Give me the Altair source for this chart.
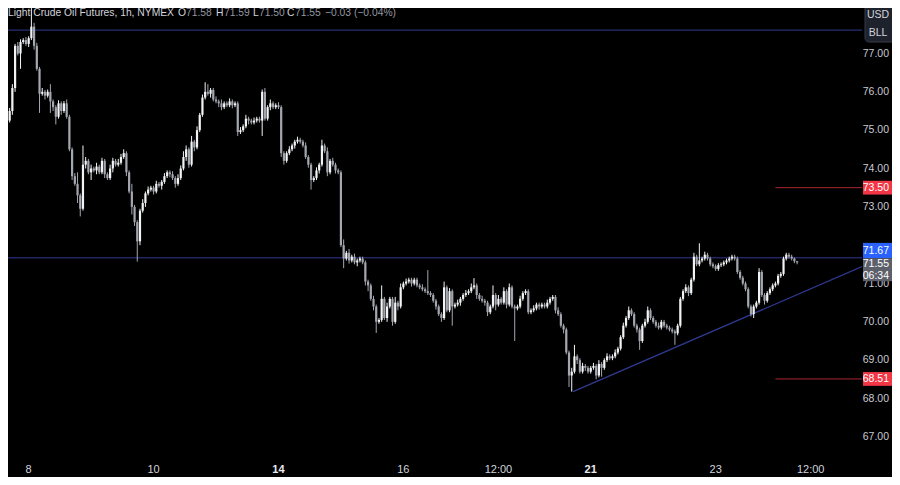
import altair as alt
import pandas as pd

# ---------------- data ----------------
FIRST_OPEN = 76.45

SEG1 = [76.10, 75.95, 75.25, 75.50, 76.10, 77.20, 77.00, 77.30, 77.35, 77.25,
        77.40, 77.70, 77.20, 76.60, 75.95, 76.00, 75.90, 76.00, 75.75, 75.60,
        75.35, 75.70, 75.50, 75.70, 75.35, 74.50, 73.80, 73.60, 73.30, 72.95,
        74.10, 74.20, 73.90, 74.00, 73.95, 74.05, 73.90, 74.20, 73.85, 73.75,
        74.00, 74.20, 74.10, 74.15, 74.30, 74.40, 73.90, 73.40, 73.00, 72.60,
        72.10, 72.90, 73.10, 73.35, 73.45]
SEG2 = [73.50, 73.40, 73.60, 73.55, 73.65, 73.80, 73.90, 73.85, 73.75, 73.60,
        73.75, 74.00, 74.30, 74.50, 74.10, 74.70, 74.55, 75.00, 75.40, 75.85,
        76.00, 75.95, 76.05, 75.80, 75.75, 75.70, 75.60, 75.70, 75.65, 75.75,
        75.65, 75.70, 74.95, 75.00, 75.10, 75.30, 75.25, 75.20, 75.25, 75.30,
        75.25, 76.00, 75.30, 75.60, 75.70, 75.60, 75.65, 75.60, 74.40, 74.20,
        74.40, 74.50, 74.60, 74.70, 74.75, 74.70]
SEG3 = [74.60, 74.30, 74.10, 73.70, 73.75, 73.95, 74.10, 74.60, 74.45, 73.90,
        74.20, 74.10, 73.95, 73.90, 72.00, 71.65, 71.80, 71.60, 71.70, 71.55,
        71.60, 71.65, 71.55, 71.05, 70.95, 70.60, 70.40, 70.00, 70.05, 70.60,
        70.10, 70.40, 70.60, 70.00, 70.50, 70.40, 70.90, 71.00, 71.05, 71.10,
        71.00, 71.10, 70.95, 70.90, 70.85, 70.80, 70.75, 70.70, 70.55, 70.40,
        70.20, 70.10, 70.90, 70.30, 70.80]
SEG4 = [70.40, 70.45, 70.50, 70.60, 70.70, 70.75, 70.80, 70.90, 70.95, 70.70,
        70.60, 70.55, 70.50, 70.25, 70.40, 70.70, 70.45, 70.60, 70.50, 70.80,
        70.45, 70.90, 70.40, 70.35, 70.40, 70.60, 70.75, 70.80, 70.25, 70.30,
        70.35, 70.45, 70.40, 70.45, 70.40, 70.50, 70.60]
SEG5 = [70.65, 70.30, 70.20, 69.90, 69.80, 69.20, 68.60, 68.70, 69.10, 69.00,
        68.70, 68.85, 68.80, 68.70, 68.80, 68.85, 68.60, 68.90]
SEG6 = [68.80, 69.00, 69.10, 69.05, 69.10, 69.20, 69.30, 69.60, 69.90, 70.10,
        70.30, 70.20, 69.90, 69.80, 69.50, 69.90, 70.00, 70.30, 70.10, 70.00,
        69.90, 69.85, 70.00, 69.90, 69.85, 69.80, 69.75, 69.70, 69.90, 70.60,
        70.80, 70.90, 70.75, 71.10, 71.70, 71.50, 71.60, 71.65, 71.75, 71.65,
        71.50, 71.45, 71.38, 71.48, 71.50, 71.55, 71.60, 71.65, 71.70, 71.65,
        71.30, 71.15, 71.00, 70.85, 70.40, 70.20]
SEG7 = [70.40, 70.50, 71.30, 70.70, 70.55, 70.75, 70.85, 70.95, 71.00, 71.20,
        71.25, 71.65, 71.75, 71.70, 71.65, 71.58, 71.55]

UP1 = [0.05, 0.08, 0.05, 0.08, 0.10, 0.05, 0.10, 0.07, 0.05, 0.08,
       0.05, 0.70, 0.10, 0.08, 0.05, 0.10, 0.05, 0.06, 0.20, 0.05,
       0.05, 0.08, 0.05, 0.06, 0.10, 0.05, 0.05, 0.08, 0.30, 0.05,
       0.50, 0.10, 0.05, 0.10, 0.05, 0.10, 0.05, 0.08, 0.05, 0.05,
       0.10, 0.08, 0.05, 0.10, 0.08, 0.10, 0.05, 0.05, 0.20, 0.05,
       0.05, 0.05, 0.10, 0.05, 0.08]
DN1 = [0.10, 0.05, 0.20, 0.05, 0.10, 0.10, 0.05, 0.40, 0.05, 0.05,
       0.08, 0.05, 0.10, 0.05, 0.50, 0.05, 0.10, 0.05, 0.30, 0.10,
       0.20, 0.05, 0.10, 0.05, 0.05, 0.05, 0.10, 0.05, 0.20, 0.20,
       0.05, 0.10, 0.05, 0.20, 0.05, 0.10, 0.05, 0.05, 0.10, 0.05,
       0.05, 0.10, 0.05, 0.05, 0.05, 0.05, 0.10, 0.05, 0.20, 0.10,
       0.53, 0.10, 0.05, 0.10, 0.05]
UP2 = [0.05, 0.05, 0.08, 0.05, 0.05, 0.08, 0.05, 0.05, 0.08, 0.05,
       0.10, 0.08, 0.15, 0.10, 0.05, 0.15, 0.05, 0.10, 0.05, 0.08,
       0.25, 0.20, 0.05, 0.05, 0.08, 0.05, 0.10, 0.05, 0.05, 0.08,
       0.05, 0.05, 0.05, 0.08, 0.05, 0.10, 0.05, 0.05, 0.08, 0.05,
       0.05, 0.06, 0.10, 0.05, 0.10, 0.05, 0.05, 0.08, 0.05, 0.05,
       0.05, 0.08, 0.05, 0.05, 0.08, 0.05]
DN2 = [0.05, 0.08, 0.05, 0.05, 0.10, 0.05, 0.05, 0.08, 0.05, 0.10,
       0.05, 0.05, 0.05, 0.10, 0.08, 0.05, 0.10, 0.05, 0.05, 0.05,
       0.05, 0.05, 0.10, 0.05, 0.05, 0.10, 0.08, 0.05, 0.05, 0.05,
       0.08, 0.05, 0.10, 0.05, 0.05, 0.05, 0.10, 0.05, 0.05, 0.05,
       0.05, 0.40, 0.05, 0.05, 0.08, 0.05, 0.05, 0.05, 0.10, 0.10,
       0.05, 0.05, 0.05, 0.08, 0.05, 0.05]
UP3 = [0.05, 0.08, 0.05, 0.05, 0.05, 0.08, 0.05, 0.15, 0.05, 0.10,
       0.05, 0.08, 0.05, 0.05, 0.05, 0.15, 0.05, 0.10, 0.05, 0.08,
       0.05, 0.05, 0.05, 0.05, 0.05, 0.05, 0.08, 0.05, 0.05, 0.35,
       0.05, 0.10, 0.05, 0.05, 0.15, 0.05, 0.10, 0.05, 0.08, 0.05,
       0.05, 0.05, 0.05, 0.05, 0.08, 0.05, 0.55, 0.05, 0.05, 0.05,
       0.05, 0.05, 0.15, 0.05, 0.08]
DN3 = [0.05, 0.05, 0.08, 0.25, 0.05, 0.05, 0.08, 0.05, 0.05, 0.10,
       0.05, 0.05, 0.08, 0.05, 0.05, 0.25, 0.05, 0.08, 0.05, 0.05,
       0.10, 0.05, 0.05, 0.10, 0.15, 0.05, 0.10, 0.29, 0.05, 0.05,
       0.05, 0.10, 0.05, 0.10, 0.05, 0.10, 0.05, 0.05, 0.05, 0.05,
       0.08, 0.05, 0.05, 0.05, 0.05, 0.05, 0.05, 0.05, 0.05, 0.08,
       0.05, 0.10, 0.05, 0.05, 0.05]
UP4 = [0.05, 0.05, 0.08, 0.05, 0.05, 0.08, 0.05, 0.10, 0.19, 0.05,
       0.05, 0.08, 0.05, 0.05, 0.05, 0.25, 0.05, 0.10, 0.05, 0.10,
       0.05, 0.10, 0.05, 0.05, 0.05, 0.08, 0.05, 0.05, 0.05, 0.05,
       0.08, 0.05, 0.05, 0.05, 0.05, 0.08, 0.05]
DN4 = [0.50, 0.05, 0.05, 0.08, 0.05, 0.05, 0.05, 0.05, 0.05, 0.10,
       0.05, 0.05, 0.08, 0.10, 0.05, 0.05, 0.15, 0.05, 0.05, 0.05,
       0.10, 0.05, 0.05, 0.85, 0.05, 0.05, 0.05, 0.05, 0.05, 0.05,
       0.05, 0.05, 0.08, 0.05, 0.05, 0.05, 0.05]
UP5 = [0.05, 0.05, 0.08, 0.05, 0.05, 0.05, 0.05, 0.10, 0.30, 0.05,
       0.05, 0.08, 0.05, 0.05, 0.05, 0.08, 0.05, 0.10]
DN5 = [0.05, 0.08, 0.05, 0.05, 0.10, 0.05, 0.30, 0.42, 0.05, 0.10,
       0.05, 0.05, 0.08, 0.05, 0.05, 0.05, 0.10, 0.05]
UP6 = [0.05, 0.05, 0.08, 0.05, 0.05, 0.08, 0.05, 0.05, 0.08, 0.05,
       0.10, 0.05, 0.05, 0.05, 0.05, 0.05, 0.08, 0.10, 0.05, 0.05,
       0.05, 0.08, 0.05, 0.05, 0.05, 0.05, 0.05, 0.05, 0.05, 0.05,
       0.05, 0.08, 0.05, 0.05, 0.10, 0.05, 0.45, 0.05, 0.08, 0.05,
       0.05, 0.05, 0.05, 0.05, 0.05, 0.05, 0.05, 0.05, 0.05, 0.05,
       0.05, 0.05, 0.05, 0.05, 0.05, 0.05]
DN6 = [0.23, 0.05, 0.05, 0.05, 0.05, 0.05, 0.05, 0.05, 0.05, 0.05,
       0.05, 0.05, 0.05, 0.08, 0.23, 0.05, 0.05, 0.05, 0.05, 0.05,
       0.05, 0.05, 0.05, 0.05, 0.05, 0.05, 0.05, 0.30, 0.05, 0.05,
       0.05, 0.05, 0.08, 0.05, 0.05, 0.05, 0.05, 0.05, 0.05, 0.05,
       0.05, 0.05, 0.05, 0.05, 0.05, 0.05, 0.05, 0.05, 0.05, 0.05,
       0.05, 0.05, 0.05, 0.05, 0.05, 0.06]
UP7 = [0.05, 0.05, 0.10, 0.05, 0.05, 0.05, 0.05, 0.05, 0.05, 0.05,
       0.05, 0.05, 0.05, 0.05, 0.05, 0.03, 0.01]
DN7 = [0.10, 0.05, 0.05, 0.05, 0.10, 0.05, 0.05, 0.05, 0.05, 0.05,
       0.05, 0.05, 0.05, 0.05, 0.05, 0.05, 0.05]

CLOSE = SEG1 + SEG2 + SEG3 + SEG4 + SEG5 + SEG6 + SEG7
WICK_UP = UP1 + UP2 + UP3 + UP4 + UP5 + UP6 + UP7
WICK_DN = DN1 + DN2 + DN3 + DN4 + DN5 + DN6 + DN7

TICK_POS = [10, 56, 102, 148, 183, 217, 263, 298]
TICK_TEXT = ["8", "10", "14", "16", "12:00", "21", "23", "12:00"]
TICK_BOLD = [False, False, True, False, False, True, False, False]

PRICE_TICKS = [67, 68, 69, 70, 71, 73, 74, 75, 76, 77]
BLUE_LEVELS = [77.61, 71.67]
RED_LEVELS = [73.50, 68.51]
RED_START = 285
TREND_X = [210.5, 316.9]
TREND_Y = [68.18, 71.44]

# ---------------- build tables ----------------
opens = [FIRST_OPEN] + CLOSE[:-1]
rows = []
for i, (o, c, wu, wd) in enumerate(zip(opens, CLOSE, WICK_UP, WICK_DN)):
    rows.append({"i": i, "o": o, "c": c, "h": max(o, c) + wu,
                 "l": min(o, c) - wd, "up": c >= o})
df = pd.DataFrame(rows)

X_DOMAIN = [2.39, 316.9]
Y_DOMAIN = [66.5, 78.187]
xs = alt.Scale(domain=X_DOMAIN, nice=False, zero=False, padding=0)
ys = alt.Scale(domain=Y_DOMAIN, nice=False, zero=False, padding=0)

FONT = "Liberation Sans Narrow, Liberation Sans, Arial, sans-serif"
UPC = "#f2f3f5"
DNC = "#a4a7b0"
BLUE = "#2f3a92"
RED = "#a8262f"

col = alt.condition("datum.up", alt.value(UPC), alt.value(DNC))

wicks = alt.Chart(df).mark_rule(strokeWidth=1, clip=True).encode(
    x=alt.X("i:Q", scale=xs, axis=None),
    y=alt.Y("l:Q", scale=ys, axis=None),
    y2="h:Q",
    color=col,
)
bodies = alt.Chart(df).mark_bar(size=2.2, clip=True).encode(
    x=alt.X("i:Q", scale=xs, axis=None),
    y=alt.Y("o:Q", scale=ys, axis=None),
    y2="c:Q",
    color=col,
)

blue_lines = alt.Chart(pd.DataFrame({"p": BLUE_LEVELS})).mark_rule(
    color=BLUE, strokeWidth=1).encode(y=alt.Y("p:Q", scale=ys, axis=None))

red_lines = alt.Chart(pd.DataFrame({"p": RED_LEVELS,
                                    "x0": [RED_START] * len(RED_LEVELS),
                                    "x1": [X_DOMAIN[1]] * len(RED_LEVELS)})).mark_rule(
    color=RED, strokeWidth=1).encode(
    x=alt.X("x0:Q", scale=xs, axis=None), x2="x1:Q",
    y=alt.Y("p:Q", scale=ys, axis=None))

trend = alt.Chart(pd.DataFrame({"x": TREND_X, "y": TREND_Y})).mark_line(
    color=BLUE, strokeWidth=1.2, clip=True).encode(
    x=alt.X("x:Q", scale=xs, axis=None), y=alt.Y("y:Q", scale=ys, axis=None))

# price scale labels
price_df = pd.DataFrame({"p": PRICE_TICKS,
                         "t": [f"{v:.2f}" for v in PRICE_TICKS]})
price_labels = alt.Chart(price_df).mark_text(
    font=FONT, fontSize=10.5, color="#c8cad2", align="right", baseline="middle").encode(
    x=alt.value(881), y=alt.Y("p:Q", scale=ys, axis=None), text="t:N")

# price-scale label boxes
boxes_df = pd.DataFrame({
    "top": [73.68, 72.06, 71.66, 68.69],
    "bot": [73.32, 71.66, 71.06, 68.33],
    "fill": ["#f23645", "#2962ff", "#5d606b", "#f23645"],
})
boxes = alt.Chart(boxes_df).mark_rect().encode(
    x=alt.value(855), x2=alt.value(884),
    y=alt.Y("top:Q", scale=ys, axis=None), y2="bot:Q",
    color=alt.Color("fill:N", scale=None))

btext_df = pd.DataFrame({
    "p": [73.50, 71.86, 71.50, 71.20, 68.51],
    "t": ["73.50", "71.67", "71.55", "06:34", "68.51"],
})
btext = alt.Chart(btext_df).mark_text(
    font=FONT, fontSize=10.5, color="#ffffff", align="right", baseline="middle").encode(
    x=alt.value(881), y=alt.Y("p:Q", scale=ys, axis=None), text="t:N")

usd_box = alt.Chart(pd.DataFrame({"a": [0]})).mark_rect(
    fill="#1e222d", stroke="#363a45", cornerRadius=4).encode(
    x=alt.value(857), x2=alt.value(888), y=alt.value(-6), y2=alt.value(34))
usd_text = alt.Chart(pd.DataFrame({"t": ["USD", "BLL"], "yy": [7, 25]})).mark_text(
    font=FONT, fontSize=10.5, color="#d1d4dc", align="center", baseline="middle").encode(
    x=alt.value(870), y=alt.Y("yy:Q", scale=None), text="t:N")

# time axis labels
ticks_df = pd.DataFrame({"x": TICK_POS, "t": TICK_TEXT, "b": TICK_BOLD})
tick_norm = alt.Chart(ticks_df).transform_filter("!datum.b").mark_text(
    font=FONT, fontSize=11, color="#d1d4dc", baseline="middle", align="center").encode(
    x=alt.X("x:Q", scale=xs, axis=None), y=alt.value(462), text="t:N")
tick_bold = alt.Chart(ticks_df).transform_filter("datum.b").mark_text(
    font=FONT, fontSize=11, fontWeight="bold", color="#e8eaed",
    baseline="middle", align="center").encode(
    x=alt.X("x:Q", scale=xs, axis=None), y=alt.value(462), text="t:N")

# header legend
head_df = pd.DataFrame({
    "t": ["Light Crude Oil Futures, 1h, NYMEX", "O", "71.58", "H", "71.59",
          "L", "71.50", "C", "71.55", "\u22120.03 (\u22120.04%)"],
    "x": [0, 170, 178, 208, 216, 245, 251, 279, 287, 317],
    "c": ["#d1d4dc", "#d1d4dc", "#9598a1", "#d1d4dc", "#9598a1",
          "#d1d4dc", "#9598a1", "#d1d4dc", "#9598a1", "#9598a1"],
})
head = alt.Chart(head_df).mark_text(
    font=FONT, fontSize=10.3, align="left", baseline="middle").encode(
    x=alt.X("x:Q", scale=None), y=alt.value(5), text="t:N",
    color=alt.Color("c:N", scale=None))

chart = alt.layer(
    blue_lines, red_lines, trend, wicks, bodies, price_labels, boxes, btext,
    usd_box, usd_text, tick_norm, tick_bold, head
).properties(
    width=854, height=448,
    autosize=alt.AutoSizeParams(type="none"),
    padding={"left": 0, "top": 0, "right": 30, "bottom": 21},
    background="#000000",
).configure_view(stroke=None)

chart.save("out.html", embed_options={"renderer": "svg", "actions": False})
